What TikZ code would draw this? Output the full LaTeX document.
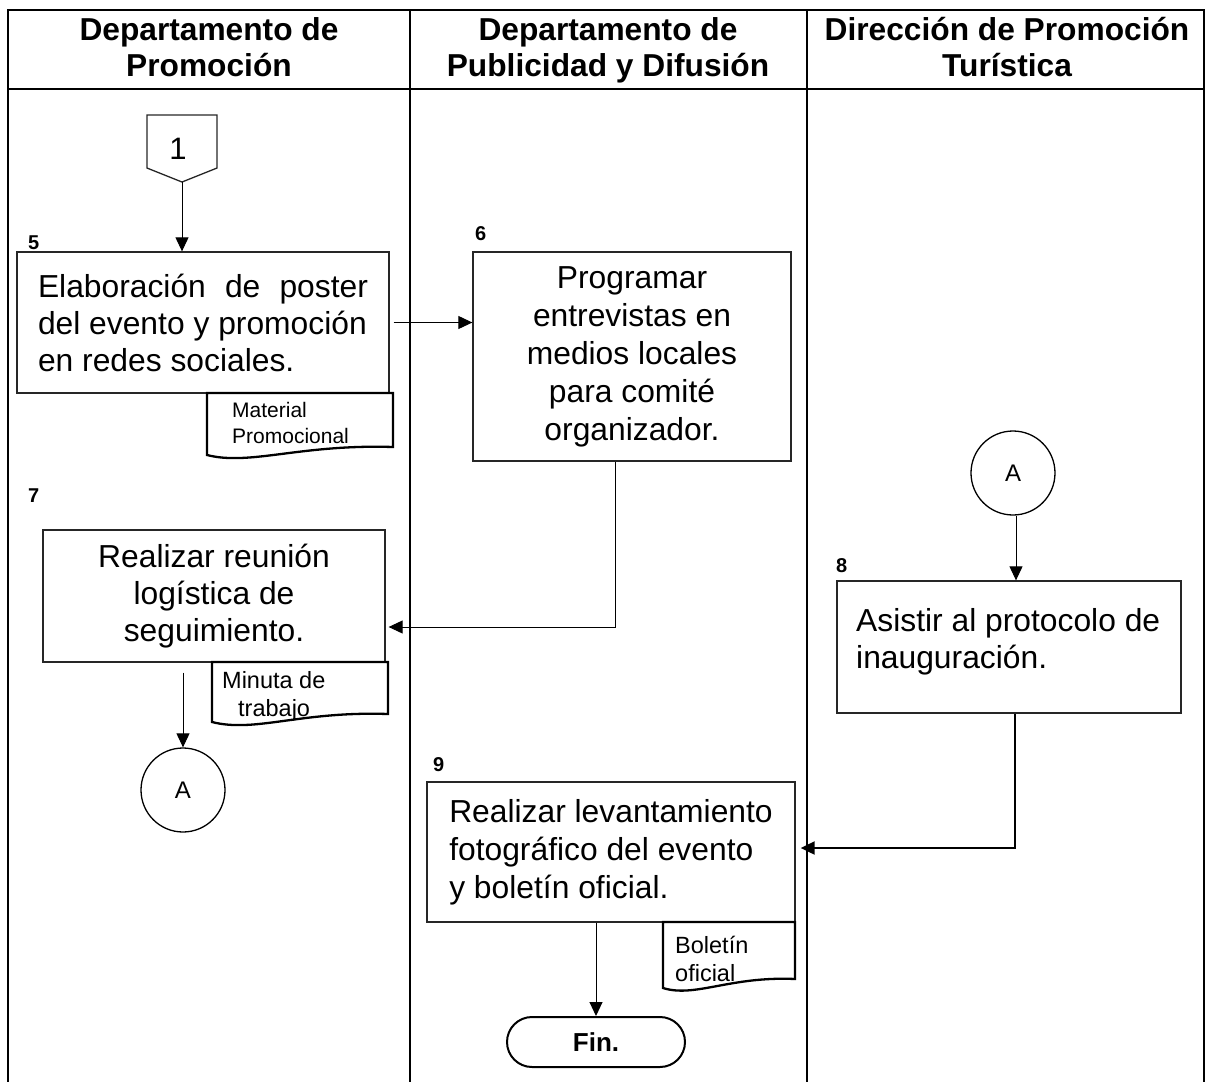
\documentclass[tikz,border=0pt]{standalone}
\usepackage{fontspec}
\setmainfont{Liberation Sans}
\usetikzlibrary{arrows.meta}
\begin{document}
\begin{tikzpicture}[x=1pt,y=-1pt,
  lane/.style={line width=2pt, draw=black},
  box/.style={draw=black!85, line width=1.3pt, rectangle, inner sep=0pt},
  doc/.style={draw=black, line width=2.3pt, fill=white, line join=miter},
  conn/.style={line width=1pt, -{Triangle[length=14pt,width=13pt]}},
  boxtxt/.style={font=\fontsize{31.8}{37}\selectfont},
  boxtxtwide/.style={font=\fontsize{31.8}{38}\selectfont},
  doctxt/.style={font=\fontsize{21}{26}\selectfont, anchor=base west, inner sep=0pt},
  doctxtb/.style={font=\fontsize{23.5}{26}\selectfont, anchor=base west, inner sep=0pt},
  stepnum/.style={font=\bfseries\fontsize{20}{22}\selectfont, anchor=base west, inner sep=0pt},
  header/.style={font=\bfseries\fontsize{31.7}{36}\selectfont, align=center, inner sep=0pt, anchor=north},
  conncircle/.style={draw=black, line width=1.3pt, circle, minimum size=84pt, inner sep=0pt,
                     font=\fontsize{24}{26}\selectfont}
]
\useasboundingbox (0,0) rectangle (1208,1082);

% swimlane frame
\draw[lane] (8,1082) -- (8,10) -- (1204,10) -- (1204,1082);
\draw[lane] (8,89) -- (1204,89);
\draw[lane] (410,10) -- (410,1082);
\draw[lane] (807,10) -- (807,1082);

% lane headers
\node[header] (h1) at (209,17) {Departamento de\\Promoción};
\node[header] (h2) at (608,17) {Departamento de\\Publicidad y Difusión};
\node[header] (h3) at (1007,17) {Dirección de Promoción\\Turística};

% off-page connector
\draw[line width=1.3pt, draw=black!85] (147,115) -- (217,115) -- (217,168) -- (182,182) -- (147,168) -- cycle;
\node[font=\fontsize{31}{32}\selectfont, anchor=base, inner sep=0pt] (p1) at (178,159) {1};
\coordinate (c1tip) at (182,182);

% activity boxes
\node[box, minimum width=372pt, minimum height=141pt, boxtxt, text width=330pt, align=justify]
  (b5) at (203,322.5) {Elaboración de poster\linebreak del evento y promoción\\en redes sociales.};
\node[box, minimum width=318pt, minimum height=209pt, boxtxtwide, align=center]
  (b6) at (632,356.5) {Programar\\entrevistas en\\medios locales\\para comité\\organizador.};
\node[box, minimum width=342pt, minimum height=132pt, boxtxt, align=center]
  (b7) at (214,596) {Realizar reunión\\logística de\\seguimiento.};
\node[box, minimum width=344pt, minimum height=132pt]
  (b8) at (1009,647) {};
\node[boxtxt, anchor=north west, inner sep=0pt, align=left]
  (t8) at (856,608) {Asistir al protocolo de\\inauguración.};
\node[box, minimum width=368pt, minimum height=140pt, boxtxtwide, align=left]
  (b9) at (611,852) {Realizar levantamiento\\fotográfico del evento\\y boletín oficial.};
\node[draw=black, line width=2pt, rounded corners=25pt, minimum width=178pt, minimum height=50pt,
      inner sep=0pt, font=\bfseries\fontsize{26}{28}\selectfont]
  (fin) at (596,1042) {Fin.};

% on-page connectors
\node[conncircle] (aL) at (183,790) {A};
\node[conncircle] (aR) at (1013,473) {A};

% step numbers
\node[stepnum] (n5) at (28,249) {5};
\node[stepnum] (n6) at (475,240) {6};
\node[stepnum] (n7) at (28,502) {7};
\node[stepnum] (n8) at (836,572) {8};
\node[stepnum] (n9) at (433,771) {9};

% documents
\draw[doc] (207,393) -- (393,393) -- (393,447) .. controls (300,444) and (250,466) .. (207,455) -- cycle;
\node[doctxt] (d5a) at (232,417) {Material};
\node[doctxt] (d5b) at (232,443) {Promocional};
\draw[doc] (212,662) -- (388,662) -- (388,714) .. controls (300,711) and (255,733) .. (212,722) -- cycle;
\node[doctxtb] (d7a) at (222,688) {Minuta de};
\node[doctxtb] (d7b) at (238,716) {trabajo};
\draw[doc] (663,922) -- (795,922) -- (795,979) .. controls (730,976) and (695,998) .. (663,988) -- cycle;
\node[doctxtb] (d9a) at (675,953) {Boletín};
\node[doctxtb] (d9b) at (675,981) {oficial};

% flow
\draw[conn] (c1tip) -- (c1tip |- b5.north);
\draw[conn] ([xshift=4pt]b5.east) -- (b5.east -| b6.west);
\draw[conn] ([xshift=-17pt]b6.south) |- ([xshift=3pt,yshift=-31pt]b7.east);
\draw[conn] ([yshift=-10pt]aL.north |- b7.south) -- (aL.north);
\draw[conn] ([xshift=3pt]aR.south) -- ([xshift=3pt]aR.south |- b8.north);
\draw[conn, line width=2pt] ([xshift=6pt]b8.south) |- ([xshift=5pt,yshift=4pt]b9.east);
\draw[conn] (fin.north |- b9.south) -- (fin.north);
\end{tikzpicture}
\end{document}
